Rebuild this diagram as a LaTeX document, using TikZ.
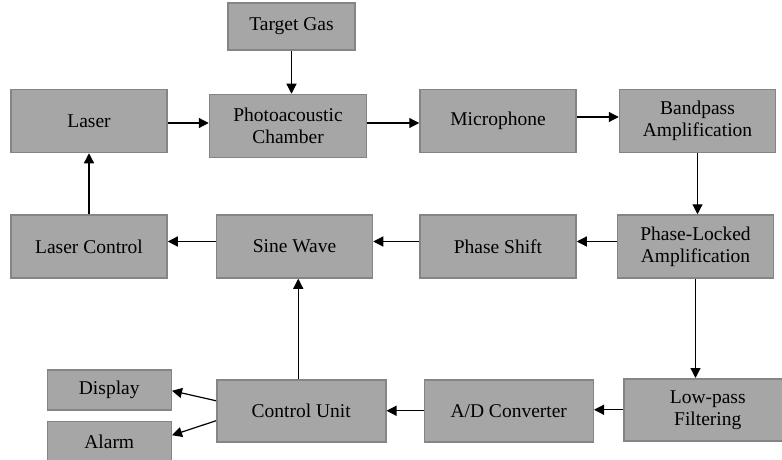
\documentclass[tikz,border=0pt]{standalone}
\usepackage{fontspec}
\setmainfont{Liberation Serif}
\usetikzlibrary{arrows.meta,positioning}

\definecolor{boxfill}{HTML}{A6A6A6}
\definecolor{boxline}{HTML}{858585}

\begin{document}
\begin{tikzpicture}[
    x=1pt, y=1pt,
    box/.style={
        rectangle, draw=boxline, fill=boxfill, line width=1.5pt,
        minimum width=156pt, minimum height=63pt, inner sep=2pt,
        align=center, font=\rmfamily\fontsize{19.5}{22}\selectfont
    },
    arrow/.style={-{Triangle[length=10pt,width=10pt]}, line width=1.2pt}
]
\useasboundingbox (0,0) rectangle (782,459);

% Nodes - top row
\node[box] (laser) at (89,338) {Laser};
\node[box, right=41pt of laser, yshift=-5pt, minimum width=157pt] (chamber) {Photoacoustic\\Chamber};
\node[box, above=43pt of chamber, xshift=3.5pt, minimum width=127pt, minimum height=47pt] (gas) {Target Gas};
\node[box, right=52pt of chamber, yshift=5pt] (mic) {Microphone};
\node[box, right=42pt of mic] (bandpass) {Bandpass\\Amplification};

% Nodes - middle row
\node[box, below=61pt of bandpass, xshift=-2pt] (pla) {Phase-Locked\\Amplification};
\node[box, left=40pt of pla] (shift) {Phase Shift};
\node[box, left=46pt of shift] (sine) {Sine Wave};
\node[box, left=48pt of sine] (lctrl) {Laser Control};

% Nodes - bottom row
\node[box, anchor=north west, minimum width=168pt, minimum height=62pt] (lowpass) at (623,81) {Low-pass\\Filtering};
\node[box, left=29pt of lowpass, yshift=-1pt, minimum width=169pt, minimum height=62pt] (adc) {A/D Converter};
\node[box, left=37pt of adc, minimum width=169pt, minimum height=62pt] (cu) {Control Unit};
\node[box, left=44pt of cu, yshift=21pt, minimum width=124pt, minimum height=40pt] (display) {Display};
\node[box, below=10pt of display, minimum width=124pt, minimum height=42pt] (alarm) {Alarm};

% Arrows - main loop
\draw[arrow] (gas.south) -- (gas.south |- chamber.north);
\draw[arrow] ([yshift=-2pt]laser.east) -- ([yshift=-2pt]laser.east -| chamber.west);
\draw[arrow] ([yshift=3pt]chamber.east) -- ([yshift=3pt]chamber.east -| mic.west);
\draw[arrow] ([yshift=4pt]mic.east) -- ([yshift=4pt]bandpass.west);
\draw[arrow] (bandpass.south) -- (bandpass.south |- pla.north);
\draw[arrow] ([yshift=5pt]pla.west) -- ([yshift=5pt]shift.east);
\draw[arrow] ([yshift=5pt]shift.west) -- ([yshift=5pt]sine.east);
\draw[arrow] ([yshift=5pt]sine.west) -- ([yshift=5pt]lctrl.east);
\draw[arrow] (lctrl.north) -- (laser.south);

% Arrows - output chain
\draw[arrow] (pla.south) -- (pla.south |- lowpass.north);
\draw[arrow] (lowpass.west) -- (lowpass.west -| adc.east);
\draw[arrow] (adc.west) -- (adc.west -| cu.east);
\draw[arrow] ([xshift=-3pt]cu.north) -- ([xshift=-3pt]cu.north |- sine.south);
\draw[arrow] ([yshift=10pt]cu.west) -- ([yshift=-1pt]display.east);
\draw[arrow] ([yshift=-10pt]cu.west) -- ([yshift=7pt]alarm.east);

\end{tikzpicture}
\end{document}
